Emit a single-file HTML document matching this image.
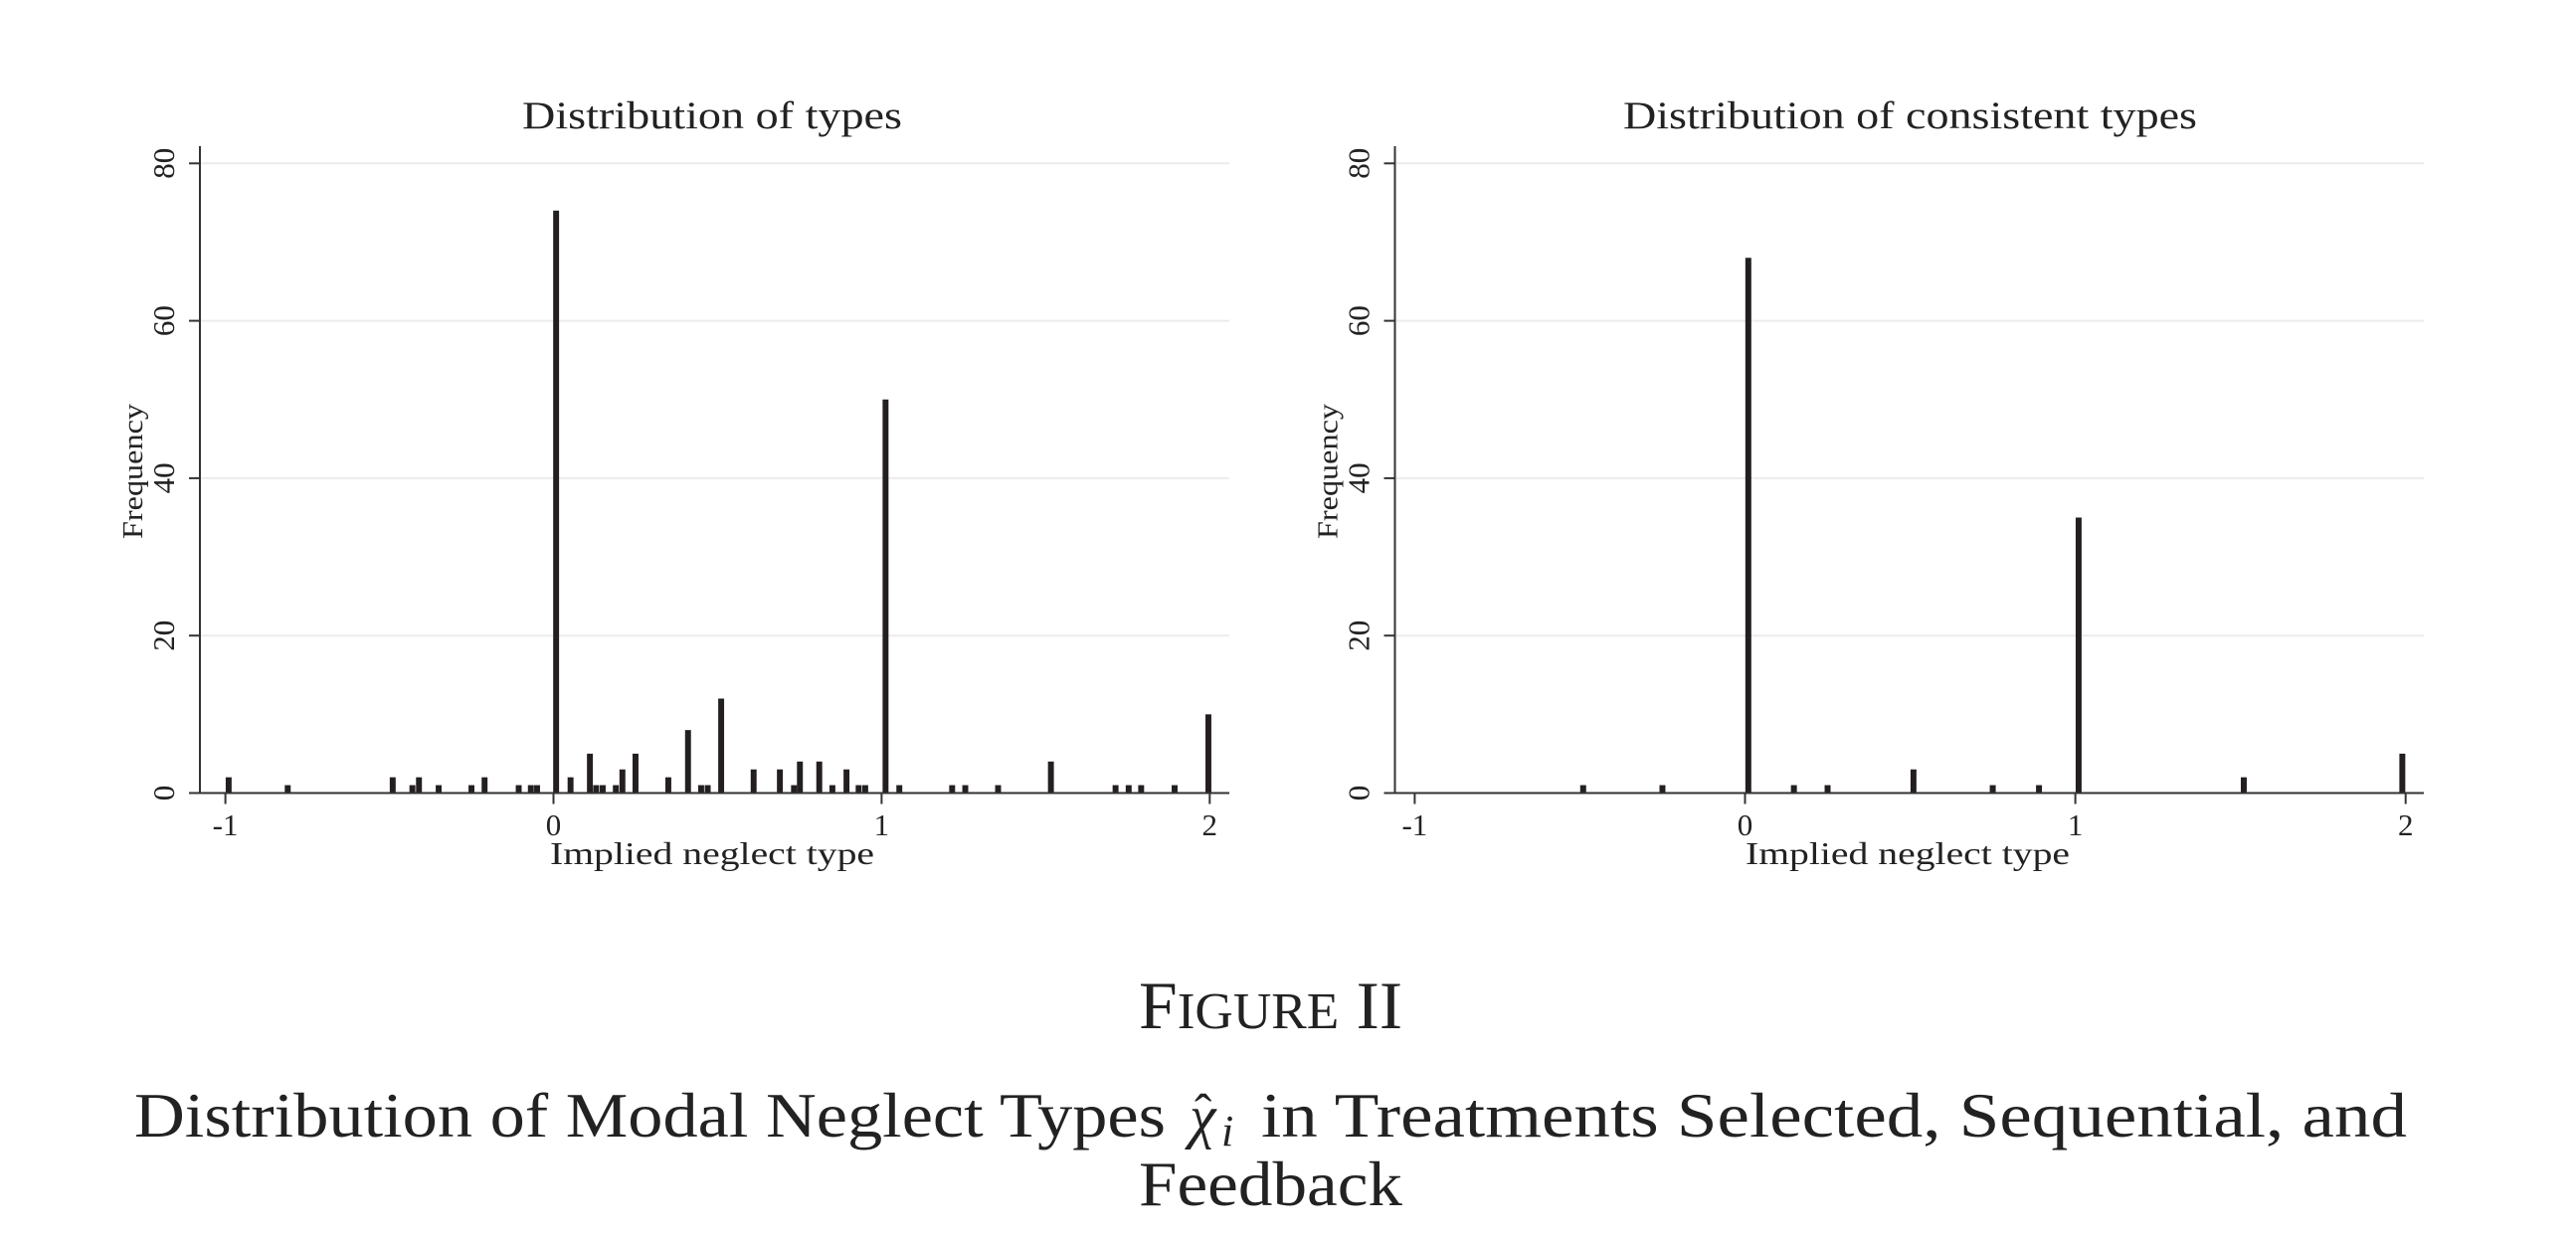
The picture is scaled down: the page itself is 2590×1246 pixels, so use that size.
<!DOCTYPE html>
<html><head><meta charset="utf-8"><style>
html,body{margin:0;padding:0;background:#fff;}
svg{display:block;font-family:"Liberation Serif",serif;}
</style></head><body>
<svg id="fig" width="2590" height="1246" viewBox="0 0 2590 1246" xmlns="http://www.w3.org/2000/svg">
<rect width="2590" height="1246" fill="#fff"/>
<text x="1145" y="1034" font-size="68" textLength="265" lengthAdjust="spacingAndGlyphs" fill="#222">F<tspan font-size="52">IGURE</tspan> II</text>
<g fill="#222">
<text x="135" y="1143" font-size="64" textLength="1037" lengthAdjust="spacingAndGlyphs">Distribution of Modal Neglect Types</text>
<text x="1196" y="1143" font-size="60" font-style="italic">χ</text>
<text x="1201" y="1136" font-size="52">ˆ</text>
<text x="1228" y="1152" font-size="44" font-style="italic">i</text>
<text x="1268" y="1143" font-size="64" textLength="1152" lengthAdjust="spacingAndGlyphs">in Treatments Selected, Sequential, and</text>
</g>
<text x="1145" y="1212" font-size="64" textLength="265" lengthAdjust="spacingAndGlyphs" fill="#222">Feedback</text>
</svg>
<script>
const leftTypes = [-0.99,-0.81,-0.49,-0.43,-0.41,-0.35,-0.25,-0.21,-0.106,-0.069,-0.05,0.008,0.052,0.111,0.13,0.15,0.19,0.21,0.25,0.35,0.41,0.45,0.47,0.511,0.61,0.69,0.733,0.751,0.81,0.85,0.893,0.93,0.95,1.012,1.054,1.215,1.255,1.355,1.516,1.713,1.753,1.791,1.893,1.996];
const leftFreq  = [2,1,2,1,2,1,1,2,1,1,1,74,2,5,1,1,1,3,5,2,8,1,1,12,3,3,1,4,4,1,3,1,1,50,1,1,1,1,4,1,1,1,1,10];
const rightTypes = [-0.49,-0.25,0.01,0.148,0.25,0.51,0.75,0.89,1.01,1.51,1.99];
const rightFreq  = [1,1,68,1,1,3,1,1,35,2,5];
const xTicks = [-1,0,1,2];
const xTickLabels = ["-1","0","1","2"];
const yTicks = [0,20,40,60,80];
const yTickLabels = ["0","20","40","60","80"];

const NS = "http://www.w3.org/2000/svg";
const svg = document.getElementById('fig');
function mk(tag, attrs, parent){const e=document.createElementNS(NS,tag);for(const k in attrs)e.setAttribute(k,attrs[k]);(parent||svg).appendChild(e);return e;}

function drawPanel(cfg, types, freq, key){
  const g = mk('g',{});
  
  
  const xs = v => cfg.x0 + (v - (-1)) * (cfg.x2 - cfg.x0) / 3;
  const ys = v => cfg.y0 - v * (cfg.y0 - cfg.y80) / 80;
  yTicks.forEach((t,i)=>{
    if(t>0){const gl=mk('line',{x1:cfg.ax,x2:cfg.xend,y1:ys(t),y2:ys(t),stroke:'#ececec','stroke-width':2},g);
      
      }
    const tk=mk('line',{x1:cfg.ax-11,x2:cfg.ax,y1:ys(t),y2:ys(t),stroke:'#333','stroke-width':2},g);
    
    
    const lb=mk('text',{x:0,y:0,transform:`translate(${cfg.ax-26},${ys(t)}) rotate(-90)`,'text-anchor':'middle','font-size':31,fill:'#222'},g);
    lb.textContent=yTickLabels[i];
    
    
  });
  const bw = 0.018*(cfg.x2-cfg.x0)/3;
  types.forEach((v,i)=>{
    const b=mk('rect',{x:xs(v)-bw/2,y:ys(freq[i]),width:bw,height:ys(0)-ys(freq[i]),fill:'#231f20'},g);
    
    
  });
  const ya=mk('line',{x1:cfg.ax,x2:cfg.ax,y1:cfg.ytop,y2:ys(0)+1,stroke:'#333','stroke-width':2},g);
  
  
  const xa=mk('line',{x1:cfg.ax,x2:cfg.xend,y1:ys(0),y2:ys(0),stroke:'#333','stroke-width':2},g);
  
  
  xTicks.forEach((t,i)=>{
    const tk=mk('line',{x1:xs(t),x2:xs(t),y1:ys(0),y2:ys(0)+11,stroke:'#333','stroke-width':2},g);
    
    
    const lb=mk('text',{x:xs(t),y:840,'text-anchor':'middle','font-size':31,fill:'#222'},g);
    lb.textContent=xTickLabels[i];
    
    
  });
  const xl=mk('text',{x:cfg.xlx,y:869,'font-size':32,textLength:326,lengthAdjust:'spacingAndGlyphs',fill:'#222'},g);
  xl.textContent='Implied neglect type';
  
  
  const yl=mk('text',{x:0,y:0,transform:`translate(${cfg.ax-58},474) rotate(-90)`,'text-anchor':'middle','font-size':29,textLength:136,lengthAdjust:'spacingAndGlyphs',fill:'#222'},g);
  yl.textContent='Frequency';
  
  
  const tt=mk('text',{x:cfg.tx,y:129,'font-size':39,textLength:cfg.tw,lengthAdjust:'spacingAndGlyphs',fill:'#222'},g);
  tt.textContent=cfg.title;
  
  
}
drawPanel({ax:201,xend:1236,x0:226.6,x2:1216.3,y0:797.5,y80:164.3,ytop:147,xlx:553,tx:525,tw:382,title:'Distribution of types'}, leftTypes, leftFreq, 'left');
drawPanel({ax:1402.5,xend:2437,x0:1422.4,x2:2418.7,y0:797.5,y80:164.3,ytop:147,xlx:1755,tx:1632,tw:577,title:'Distribution of consistent types'}, rightTypes, rightFreq, 'right');
</script>
</body></html>
